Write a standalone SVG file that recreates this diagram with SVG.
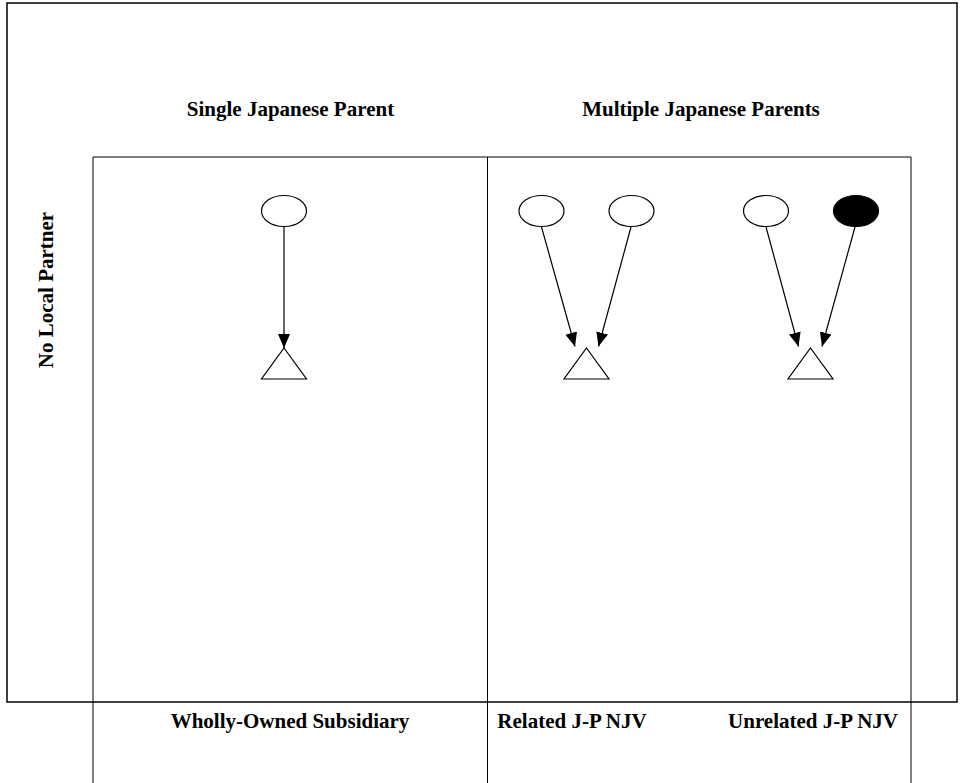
<svg xmlns="http://www.w3.org/2000/svg" width="963" height="783" viewBox="0 0 963 783">
  <style>
    .frame { fill: none; stroke: #000; stroke-width: 1.5; }
    .grid { fill: none; stroke: #000; stroke-width: 1; }
    .label { font-family: "Liberation Serif", "Times New Roman", serif; font-weight: bold; font-size: 21px; fill: #000; }
    .parent { fill: #fff; stroke: #000; stroke-width: 1.2; }
    .parent.other { fill: #000; }
    .sub { fill: #fff; stroke: #000; stroke-width: 1.2; }
    .link { stroke: #000; stroke-width: 1.2; fill: none; marker-end: url(#head); }
  </style>
  <defs>
    <marker id="head" markerUnits="userSpaceOnUse" markerWidth="14" markerHeight="14" viewBox="0 0 14 12" refX="14" refY="6" orient="auto">
      <path d="M0,0 L14,6 L0,12 Z" fill="#000"/>
    </marker>
  </defs>

  <rect width="963" height="783" fill="#fff"/>

  <!-- outer frame -->
  <rect class="frame" x="7" y="3" width="950" height="699"/>

  <!-- column grid -->
  <g id="grid">
    <line class="grid" x1="93" y1="157" x2="911" y2="157"/>
    <line class="grid" x1="93" y1="157" x2="93" y2="783"/>
    <line class="grid" x1="487.5" y1="157" x2="487.5" y2="783"/>
    <line class="grid" x1="911" y1="157" x2="911" y2="783"/>
  </g>

  <!-- headings -->
  <g id="headings">
    <text class="label" x="290.5" y="115.5" text-anchor="middle">Single Japanese Parent</text>
    <text class="label" x="701" y="115.5" text-anchor="middle">Multiple Japanese Parents</text>
    <text class="label" x="0" y="0" text-anchor="middle" transform="translate(53,290) rotate(-90)">No Local Partner</text>
    <text class="label" x="290" y="728" text-anchor="middle">Wholly-Owned Subsidiary</text>
    <text class="label" x="572" y="728" text-anchor="middle">Related J-P NJV</text>
    <text class="label" x="813" y="728" text-anchor="middle">Unrelated J-P NJV</text>
  </g>

  <!-- parents -->
  <g id="parent-single"><ellipse class="parent" cx="284" cy="211" rx="22.5" ry="15.5"/></g>
  <g id="parent-related-a"><ellipse class="parent" cx="541.5" cy="211" rx="22.5" ry="15.5"/></g>
  <g id="parent-related-b"><ellipse class="parent" cx="631.5" cy="211" rx="22.5" ry="15.5"/></g>
  <g id="parent-unrelated-a"><ellipse class="parent" cx="766" cy="211" rx="22.5" ry="15.5"/></g>
  <g id="parent-unrelated-b"><ellipse class="parent other" cx="856" cy="211" rx="22.5" ry="15.5"/></g>

  <!-- subsidiaries -->
  <g id="sub-wholly"><polygon class="sub" points="284,348 306.5,379 261.5,379"/></g>
  <g id="sub-related"><polygon class="sub" points="586.5,348 609,379 564,379"/></g>
  <g id="sub-unrelated"><polygon class="sub" points="810.5,348 833,379 788,379"/></g>

  <!-- ownership links -->
  <g id="connectors">
    <line class="link" x1="284" y1="226.5" x2="284" y2="348"/>
    <line class="link" x1="541.5" y1="227" x2="575" y2="346.5"/>
    <line class="link" x1="631" y1="227" x2="598.5" y2="346.5"/>
    <line class="link" x1="766" y1="227" x2="798.5" y2="346.5"/>
    <line class="link" x1="855" y1="227" x2="822" y2="346.5"/>
  </g>
</svg>
